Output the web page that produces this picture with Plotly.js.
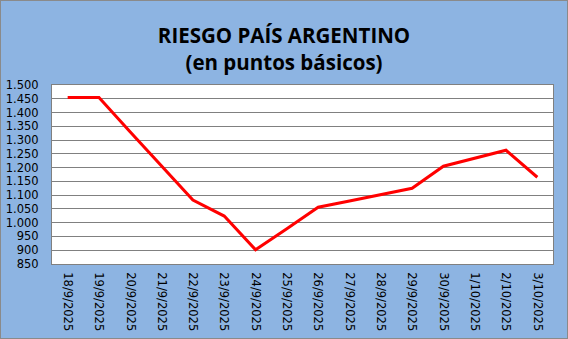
<!DOCTYPE html>
<html>
<head>
<meta charset="utf-8">
<script src="https://cdn.plot.ly/plotly-3.0.1.min.js"></script>
<style>
html,body{margin:0;padding:0;background:#8DB4E2;}
#chart{width:566px;height:337px;border:1px solid #8a8a8a;}
</style>
</head>
<body>
<div id="chart"></div>
<script>
const dates = ["18/9/2025","19/9/2025","20/9/2025","21/9/2025","22/9/2025","23/9/2025","24/9/2025","25/9/2025","26/9/2025","27/9/2025","28/9/2025","29/9/2025","30/9/2025","1/10/2025","2/10/2025","3/10/2025"];
const riesgo = [1455, 1455, 1329, 1204, 1082, 1024, 902, 978, 1056, 1079, 1102, 1125, 1205, 1234, 1263, 1165];
const yTicks = [850,900,950,1000,1050,1100,1150,1200,1250,1300,1350,1400,1450,1500];

const trace = {
  x: dates, y: riesgo, type: 'scatter', mode: 'lines',
  line: {color: '#FF0000', width: 3}, hoverinfo: 'x+y'
};
const layout = {
  width: 566, height: 337,
  margin: {l: 51, r: 14, t: 84, b: 74},
  paper_bgcolor: '#8DB4E2', plot_bgcolor: '#FFFFFF',
  separators: ',.',
  showlegend: false,
  title: {
    text: '<b>RIESGO PAÍS ARGENTINO</b><br><b>(en puntos básicos)</b>',
    font: {family: 'Open Sans, Noto Sans, sans-serif', size: 20.5, color: '#000'},
    x: 0.5, xanchor: 'center', y: 0.875, yanchor: 'middle', yref: 'container'
  },
  xaxis: {
    type: 'category', range: [-0.5, 15.5], tickangle: 90,
    tickfont: {family: 'DejaVu Sans, Verdana, sans-serif', size: 11.5, color: '#000'},
    showgrid: false, showline: true, linecolor: '#808080', linewidth: 1, mirror: true,
    ticks: '', ticklabelstandoff: 5, fixedrange: true
  },
  yaxis: {
    range: [850, 1500], tickvals: yTicks, tickformat: ',d',
    tickfont: {family: 'DejaVu Sans, Verdana, sans-serif', size: 11.5, color: '#000'},
    showgrid: true, gridcolor: '#808080', gridwidth: 1,
    showline: true, linecolor: '#808080', linewidth: 1, mirror: true,
    zeroline: false, ticks: '', ticklabelstandoff: 10, fixedrange: true
  }
};
Plotly.newPlot('chart', [trace], layout, {displayModeBar: false, staticPlot: true});
</script>
</body>
</html>
